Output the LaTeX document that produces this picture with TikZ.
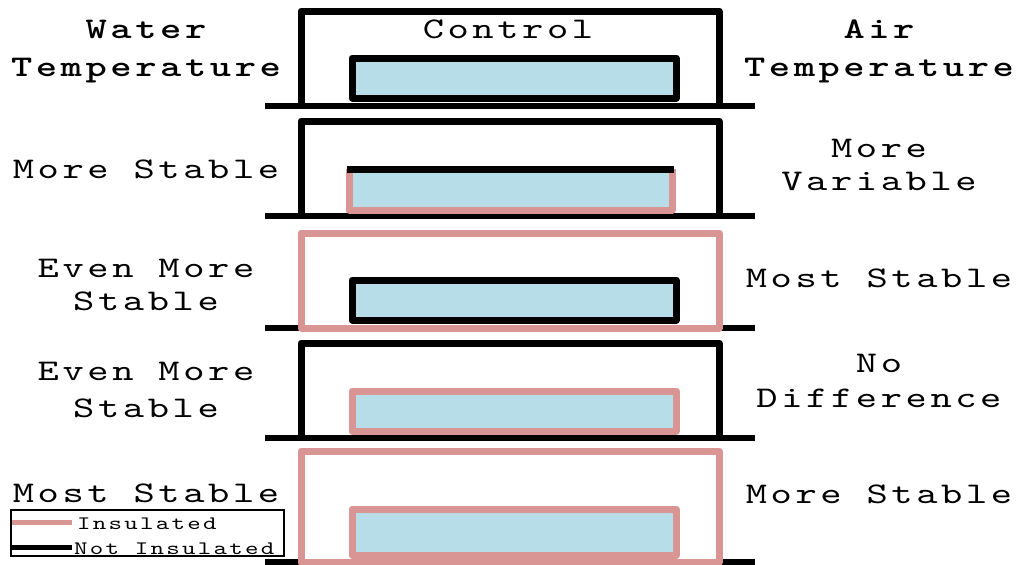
\documentclass[tikz,border=0pt]{standalone}
\usepackage{fontspec}
\newfontfamily\labfont{lmmono10-regular.otf}[BoldFont=lmmonolt10-bold.otf, FakeStretch=1.35, LetterSpace=12]
\definecolor{insul}{RGB}{217,149,148}
\definecolor{water}{RGB}{183,221,232}
\begin{document}
\begin{tikzpicture}[x=1pt,y=-1pt,
  lab/.style={inner sep=0pt,anchor=base,font=\labfont\fontsize{30}{34}\selectfont},
  hdr/.style={lab,font=\labfont\bfseries\fontsize{30}{34}\selectfont},
  leg/.style={inner sep=0pt,anchor=base west,font=\labfont\fontsize{19}{20}\selectfont},
  blk/.style={draw=black,line width=7pt,line join=round},
  pnk/.style={draw=insul,line width=7pt,line join=round},
  gnd/.style={draw=black,line width=6pt},
  wat/.style={fill=water}]
\fill[white] (0,0) rectangle (1018,565);
\useasboundingbox (0,0) rectangle (1018,565);
% panel 1 (control)
\draw[gnd] (265,106) -- (755,106);
\draw[blk] (301,106) -- (301,11) -- (719,11) -- (719,106);
\draw[blk,wat] (352,58) rectangle (676,98);
% panel 2
\draw[gnd] (265,216) -- (755,216);
\draw[blk] (301,216) -- (301,121) -- (719,121) -- (719,216);
\fill[water] (349,169) rectangle (672,210);
\draw[pnk] (349,169) -- (349,210) -- (672,210) -- (672,169);
\draw[blk] (347,169) -- (674,169);
% panel 3
\draw[gnd] (265,328) -- (300,328) (720,328) -- (755,328);
\draw[pnk] (301,233) rectangle (719,328);
\draw[blk,wat] (352,280) rectangle (676,320);
% panel 4
\draw[gnd] (265,438) -- (755,438);
\draw[blk] (301,438) -- (301,343) -- (719,343) -- (719,438);
\draw[pnk,wat] (352,391) rectangle (676,431);
% panel 5
\draw[gnd] (265,562) -- (300,562) (720,562) -- (755,562);
\draw[pnk] (301,451) rectangle (719,562);
\draw[pnk,wat] (352,509) rectangle (676,555);
% labels
\node[lab] (ctrl) at (508,38) {Control};
\node[hdr] (wt1) at (146,38) {Water};
\node[hdr] (wt2) at (146,76) {Temperature};
\node[hdr] (at1) at (879,38) {Air};
\node[hdr] (at2) at (879,76) {Temperature};
\node[lab] (w2) at (146,178) {More Stable};
\node[lab] (a2a) at (879,157) {More};
\node[lab] (a2b) at (879,190) {Variable};
\node[lab] (w3a) at (146,277) {Even More};
\node[lab] (w3b) at (146,310) {Stable};
\node[lab] (a3) at (879,287) {Most Stable};
\node[lab] (w4a) at (146,380) {Even More};
\node[lab] (w4b) at (146,417) {Stable};
\node[lab] (a4a) at (879,372) {No};
\node[lab] (a4b) at (879,407) {Difference};
\node[lab] (w5) at (146,502) {Most Stable};
\node[lab] (a5) at (879,503) {More Stable};
% legend
\draw[line width=1.5pt] (11,510) rectangle (284,556);
\draw[insul,line width=5pt] (12,522) -- (72,522);
\draw[black,line width=5pt] (12,547) -- (72,547);
\node[leg] (li) at (77,529) {Insulated};
\node[leg] (ln) at (74,554) {Not Insulated};
\end{tikzpicture}
\end{document}
